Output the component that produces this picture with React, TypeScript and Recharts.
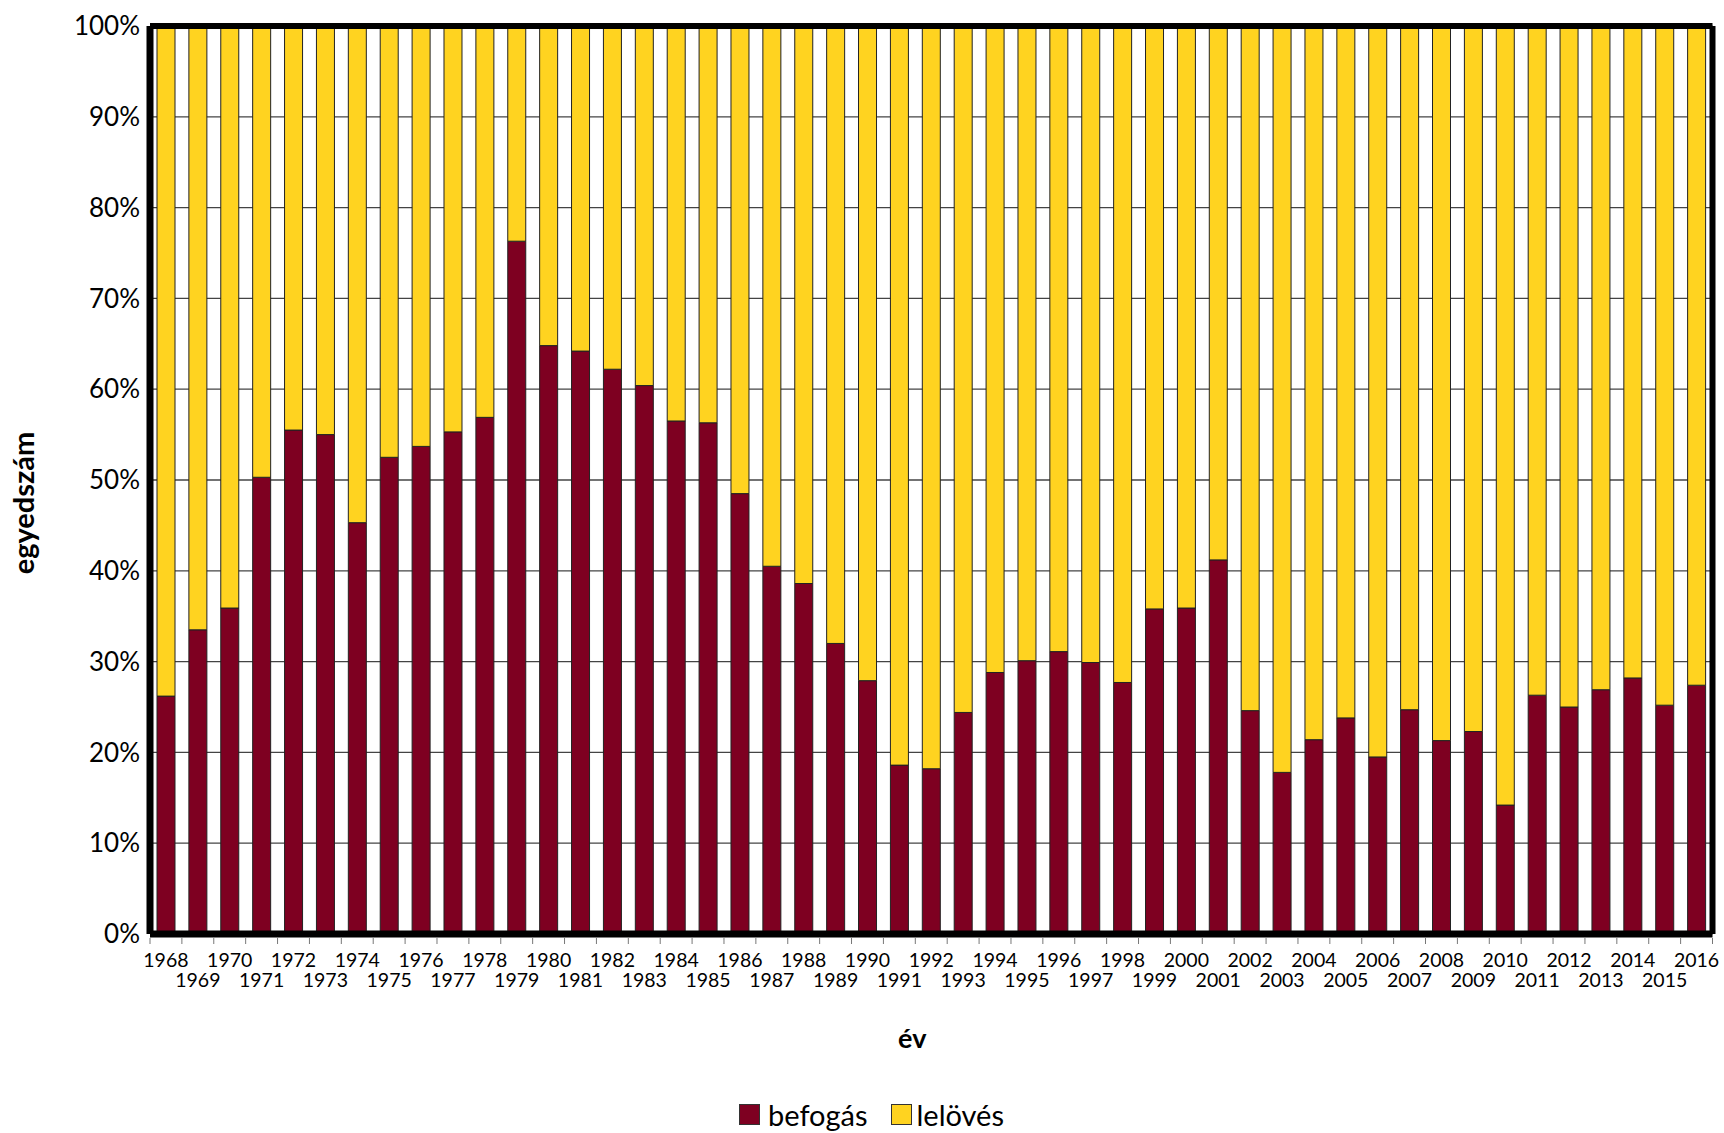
import { BarChart, Bar, XAxis, YAxis, CartesianGrid, Legend } from 'recharts'

// evenként: befogás vs. lelövés aránya (%)
const years = [
  '1968', '1969', '1970', '1971', '1972', '1973', '1974', '1975', '1976', '1977',
  '1978', '1979', '1980', '1981', '1982', '1983', '1984', '1985', '1986', '1987',
  '1988', '1989', '1990', '1991', '1992', '1993', '1994', '1995', '1996', '1997',
  '1998', '1999', '2000', '2001', '2002', '2003', '2004', '2005', '2006', '2007',
  '2008', '2009', '2010', '2011', '2012', '2013', '2014', '2015', '2016',
]

const befogas = [
  26.2, 33.5, 35.9, 50.3, 55.5, 55.0, 45.3, 52.5, 53.7, 55.3,
  56.9, 76.3, 64.8, 64.2, 62.2, 60.4, 56.5, 56.3, 48.5, 40.5,
  38.6, 32.0, 27.9, 18.6, 18.2, 24.4, 28.8, 30.1, 31.1, 29.9,
  27.7, 35.8, 35.9, 41.2, 24.6, 17.8, 21.4, 23.8, 19.5, 24.7,
  21.3, 22.3, 14.2, 26.3, 25.0, 26.9, 28.2, 25.2, 27.4,
]

const lelooves = [
  73.8, 66.5, 64.1, 49.7, 44.5, 45.0, 54.7, 47.5, 46.3, 44.7,
  43.1, 23.7, 35.2, 35.8, 37.8, 39.6, 43.5, 43.7, 51.5, 59.5,
  61.4, 68.0, 72.1, 81.4, 81.8, 75.6, 71.2, 69.9, 68.9, 70.1,
  72.3, 64.2, 64.1, 58.8, 75.4, 82.2, 78.6, 76.2, 80.5, 75.3,
  78.7, 77.7, 85.8, 73.7, 75.0, 73.1, 71.8, 74.8, 72.6,
]

const yTicks = [0, 10, 20, 30, 40, 50, 60, 70, 80, 90, 100]

const W = 1724
const H = 1133
const PLOT_LEFT = 150
const PLOT_RIGHT = 1712.5
const PLOT_TOP = 26
const PLOT_BOTTOM = 934
const LEGEND_H = 32
const band = (PLOT_RIGHT - PLOT_LEFT) / years.length

const data = years.map((year, i) => ({ year, befogas: befogas[i], lelooves: lelooves[i] }))

// even years on the first row, odd years on the second; tick marks sit between bars
const YearTick = (props: any) => {
  const { x, y, payload, index } = props
  const edge = x - band / 2
  const second = index % 2 === 1
  return (
    <g>
      <line x1={edge} y1={y + 4} x2={edge} y2={y + 10} stroke="#777" strokeWidth={1} />
      {index === years.length - 1 && (
        <line x1={x + band / 2} y1={y + 4} x2={x + band / 2} y2={y + 10} stroke="#777" strokeWidth={1} />
      )}
      <text x={x} y={y + (second ? 53 : 33)} textAnchor="middle" fontSize={19.5} fill="#000">
        {payload.value}
      </text>
    </g>
  )
}

const LegendContent = (props: any) => {
  const { payload } = props
  return (
    <div
      style={{
        display: 'flex',
        justifyContent: 'center',
        alignItems: 'center',
        height: LEGEND_H,
        paddingLeft: 19,
        fontFamily: 'Lato',
        fontSize: 29,
        color: '#000',
      }}
    >
      {(payload || []).map((p: any, i: number) => (
        <div key={p.value} style={{ display: 'flex', alignItems: 'center', marginLeft: i ? 23 : 0 }}>
          <span
            style={{
              display: 'inline-block',
              width: 19,
              height: 19,
              background: p.color,
              border: '1px solid #333',
              marginRight: i ? 5 : 8,
            }}
          />
          <span>{p.value}</span>
        </div>
      ))}
    </div>
  )
}

export default function App() {
  return (
    <div style={{ position: 'absolute', left: 0, top: 0, width: W, height: H, background: '#fff' }}>
      <BarChart
        width={W}
        height={H}
        data={data}
        margin={{ top: 0, right: 0, left: 0, bottom: 0 }}
        style={{ fontFamily: 'Lato' }}
      >
        <CartesianGrid vertical={false} stroke="#444" strokeWidth={1.3} />
        <Bar
          dataKey="befogas"
          name="befogás"
          stackId="a"
          fill="#7e0021"
          stroke="#222"
          strokeWidth={1}
          barSize={18}
          isAnimationActive={false}
        />
        <Bar
          dataKey="lelooves"
          name="lelövés"
          stackId="a"
          fill="#ffd320"
          stroke="#222"
          strokeWidth={1}
          barSize={18}
          isAnimationActive={false}
        />
        <XAxis
          dataKey="year"
          interval={0}
          height={H - PLOT_BOTTOM}
          tickSize={0}
          tickMargin={0}
          tickLine={false}
          axisLine={{ stroke: '#000', strokeWidth: 7 }}
          tick={<YearTick />}
          label={{
            content: (p: any) => {
              const vb = p.viewBox
              return (
                <text
                  x={vb.x + vb.width / 2 - 19}
                  y={1048}
                  textAnchor="middle"
                  fontSize={27}
                  fontWeight="bold"
                  fill="#000"
                >
                  év
                </text>
              )
            },
          }}
        />
        <XAxis
          xAxisId="top"
          dataKey="year"
          orientation="top"
          height={PLOT_TOP}
          tick={false}
          tickLine={false}
          axisLine={{ stroke: '#000', strokeWidth: 6 }}
        />
        <YAxis
          domain={[0, 100]}
          ticks={yTicks}
          width={PLOT_LEFT}
          tickSize={0}
          tickMargin={10}
          tickLine={false}
          tickFormatter={(v) => `${v}%`}
          tick={{ fontSize: 26, fill: '#000' }}
          axisLine={{ stroke: '#000', strokeWidth: 7 }}
          label={{
            content: (p: any) => {
              const vb = p.viewBox
              const cx = vb.x + 34
              const cy = vb.y + vb.height / 2 + 23
              return (
                <text
                  x={cx}
                  y={cy}
                  transform={`rotate(-90, ${cx}, ${cy})`}
                  textAnchor="middle"
                  fontSize={29}
                  fontWeight="bold"
                  fill="#000"
                >
                  egyedszám
                </text>
              )
            },
          }}
        />
        <YAxis
          yAxisId="right"
          orientation="right"
          domain={[0, 100]}
          width={W - PLOT_RIGHT}
          tick={false}
          tickLine={false}
          axisLine={{ stroke: '#000', strokeWidth: 6 }}
        />
        <Legend
          layout="horizontal"
          verticalAlign="middle"
          align="center"
          content={<LegendContent />}
          wrapperStyle={{ top: 1098, left: 0, width: W, height: LEGEND_H }}
        />
      </BarChart>
    </div>
  )
}
